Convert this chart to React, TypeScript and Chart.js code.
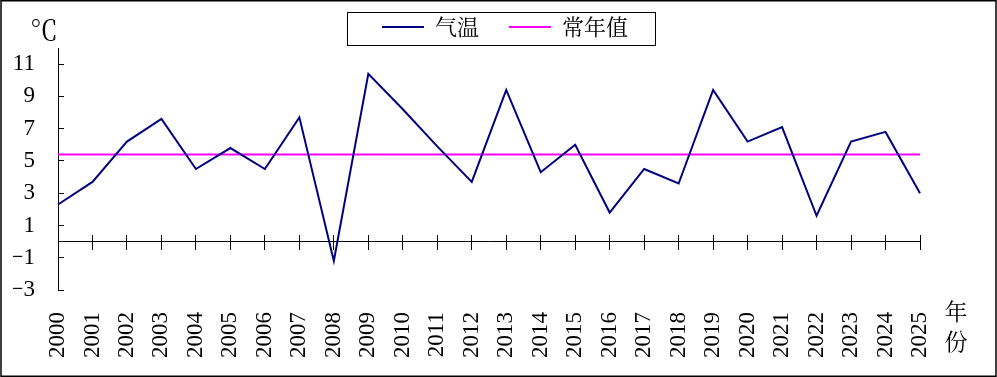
import React, { useEffect, useRef } from "react";
import { Chart, registerables } from "chart.js";

Chart.register(...registerables);

const years = [
  "2000", "2001", "2002", "2003", "2004", "2005", "2006", "2007", "2008",
  "2009", "2010", "2011", "2012", "2013", "2014", "2015", "2016", "2017",
  "2018", "2019", "2020", "2021", "2022", "2023", "2024", "2025",
];
const temperature = [
  2.3, 3.7, 6.2, 7.6, 4.5, 5.8, 4.5, 7.7, -1.2,
  10.4, 8.2, 5.9, 3.7, 9.4, 4.3, 6.0, 1.8, 4.5,
  3.6, 9.4, 6.2, 7.1, 1.6, 6.2, 6.8, 3.0,
];
const normalValue = 5.4;
const normalSeries = years.map(() => normalValue);
const yTicks = [-3, -1, 1, 3, 5, 7, 9, 11];
const yMin = -3;
const yMax = 12;
const seriesNames = ["气温", "常年值"];
const unitLabel = "℃";
const xTitle = ["年", "份"];

const SERIF = "Liberation Serif";
const CJK = "Noto Serif CJK SC";

const decorPlugin = {
  id: "decor",
  afterDraw(chart: any) {
    const ctx = chart.ctx;
    const area = chart.chartArea;
    ctx.save();
    // outer frame
    ctx.strokeStyle = "#000";
    ctx.lineWidth = 1.5;
    ctx.strokeRect(1, 0.75, chart.width - 2, chart.height - 1.5);
    // legend frame
    const hb = chart.legend && chart.legend.legendHitBoxes;
    if (hb && hb.length) {
      const last = hb[hb.length - 1];
      const l = Math.round(hb[0].left - 35);
      const r = Math.round(last.left + last.width + 27);
      const t = Math.round(hb[0].top - 4);
      const b = Math.round(hb[0].top + 29);
      ctx.lineWidth = 1;
      ctx.strokeRect(l + 0.5, t + 0.5, r - l, b - t);
    }
    // unit label
    ctx.fillStyle = "#000";
    ctx.font = "28px " + CJK;
    ctx.textAlign = "right";
    ctx.textBaseline = "middle";
    ctx.fillText(unitLabel, area.left, area.top - 18);
    // x axis title (vertical)
    const xs = chart.scales.x;
    ctx.font = "23px " + CJK;
    ctx.textAlign = "center";
    ctx.fillText(xTitle[0], area.right + 36, xs.top + 21);
    ctx.fillText(xTitle[1], area.right + 36, xs.top + 51);
    ctx.restore();
  },
};

export default function App() {
  const canvasRef = useRef<HTMLCanvasElement | null>(null);

  useEffect(() => {
    document.body.style.margin = "0";
    const canvas = canvasRef.current;
    if (!canvas) return;
    const baseGen = (Chart.defaults as any).plugins.legend.labels.generateLabels;
    const chart = new Chart(canvas, {
      type: "line",
      data: {
        labels: years,
        datasets: [
          {
            label: seriesNames[0],
            data: temperature,
            borderColor: "#000080",
            backgroundColor: "#000080",
            borderWidth: 2,
            pointRadius: 0,
            tension: 0,
            xAxisID: "x",
            yAxisID: "y",
          },
          {
            label: seriesNames[1],
            data: normalSeries,
            borderColor: "#FF00FF",
            backgroundColor: "#FF00FF",
            borderWidth: 2,
            pointRadius: 0,
            tension: 0,
            xAxisID: "x",
            yAxisID: "y",
          },
        ],
      },
      options: {
        animation: false,
        responsive: true,
        maintainAspectRatio: false,
        events: [],
        layout: { padding: { top: -14, left: 13, right: 0, bottom: 0 } },
        plugins: {
          legend: {
            display: true,
            position: "top",
            labels: {
              font: { family: CJK, size: 22 },
              color: "#000",
              boxWidth: 42,
              boxHeight: 2,
              padding: 30,
              generateLabels: (c: any) =>
                baseGen(c).map((l: any) => ({ ...l, fillStyle: l.strokeStyle, lineWidth: 0 })),
            },
          },
          tooltip: { enabled: false },
        },
        scales: {
          x: {
            type: "category",
            position: "bottom",
            grid: { display: false },
            border: { display: false },
            ticks: {
              autoSkip: false,
              maxRotation: 90,
              minRotation: 90,
              padding: 14,
              color: "#000",
              font: { family: SERIF, size: 23 },
            },
            afterFit: (s: any) => {
              s.height = 87;
              s.paddingRight = 77;
            },
          },
          xZeroDown: {
            type: "category",
            position: { y: 0 },
            grid: {
              display: true,
              drawOnChartArea: false,
              drawTicks: true,
              tickLength: 8,
              color: "#000",
              lineWidth: 1,
            },
            border: { display: true, color: "#000", width: 1 },
            ticks: { display: false },
          },
          xZeroUp: {
            type: "category",
            position: { y: 0 },
            grid: {
              display: true,
              drawOnChartArea: false,
              drawTicks: true,
              tickLength: -7,
              color: "#000",
              lineWidth: 1,
            },
            border: { display: false },
            ticks: { display: false },
          },
          y: {
            type: "linear",
            position: "left",
            min: yMin,
            max: yMax,
            afterBuildTicks: (s: any) => {
              s.ticks = yTicks.map((v) => ({ value: v }));
            },
            grid: {
              drawOnChartArea: false,
              drawTicks: true,
              tickLength: -6,
              color: "#000",
              lineWidth: 1,
            },
            border: { display: true, color: "#000", width: 1 },
            ticks: {
              padding: 29,
              color: "#000",
              font: { family: SERIF, size: 23 },
              callback: (v: any) => String(v).replace("-", "−"),
            },
            afterFit: (s: any) => {
              s.width = 45;
            },
          },
        },
      } as any,
      plugins: [decorPlugin],
    });
    return () => chart.destroy();
  }, []);

  return (
    <div style={{ width: 997, height: 377, position: "relative" }}>
      <canvas ref={canvasRef} />
    </div>
  );
}
